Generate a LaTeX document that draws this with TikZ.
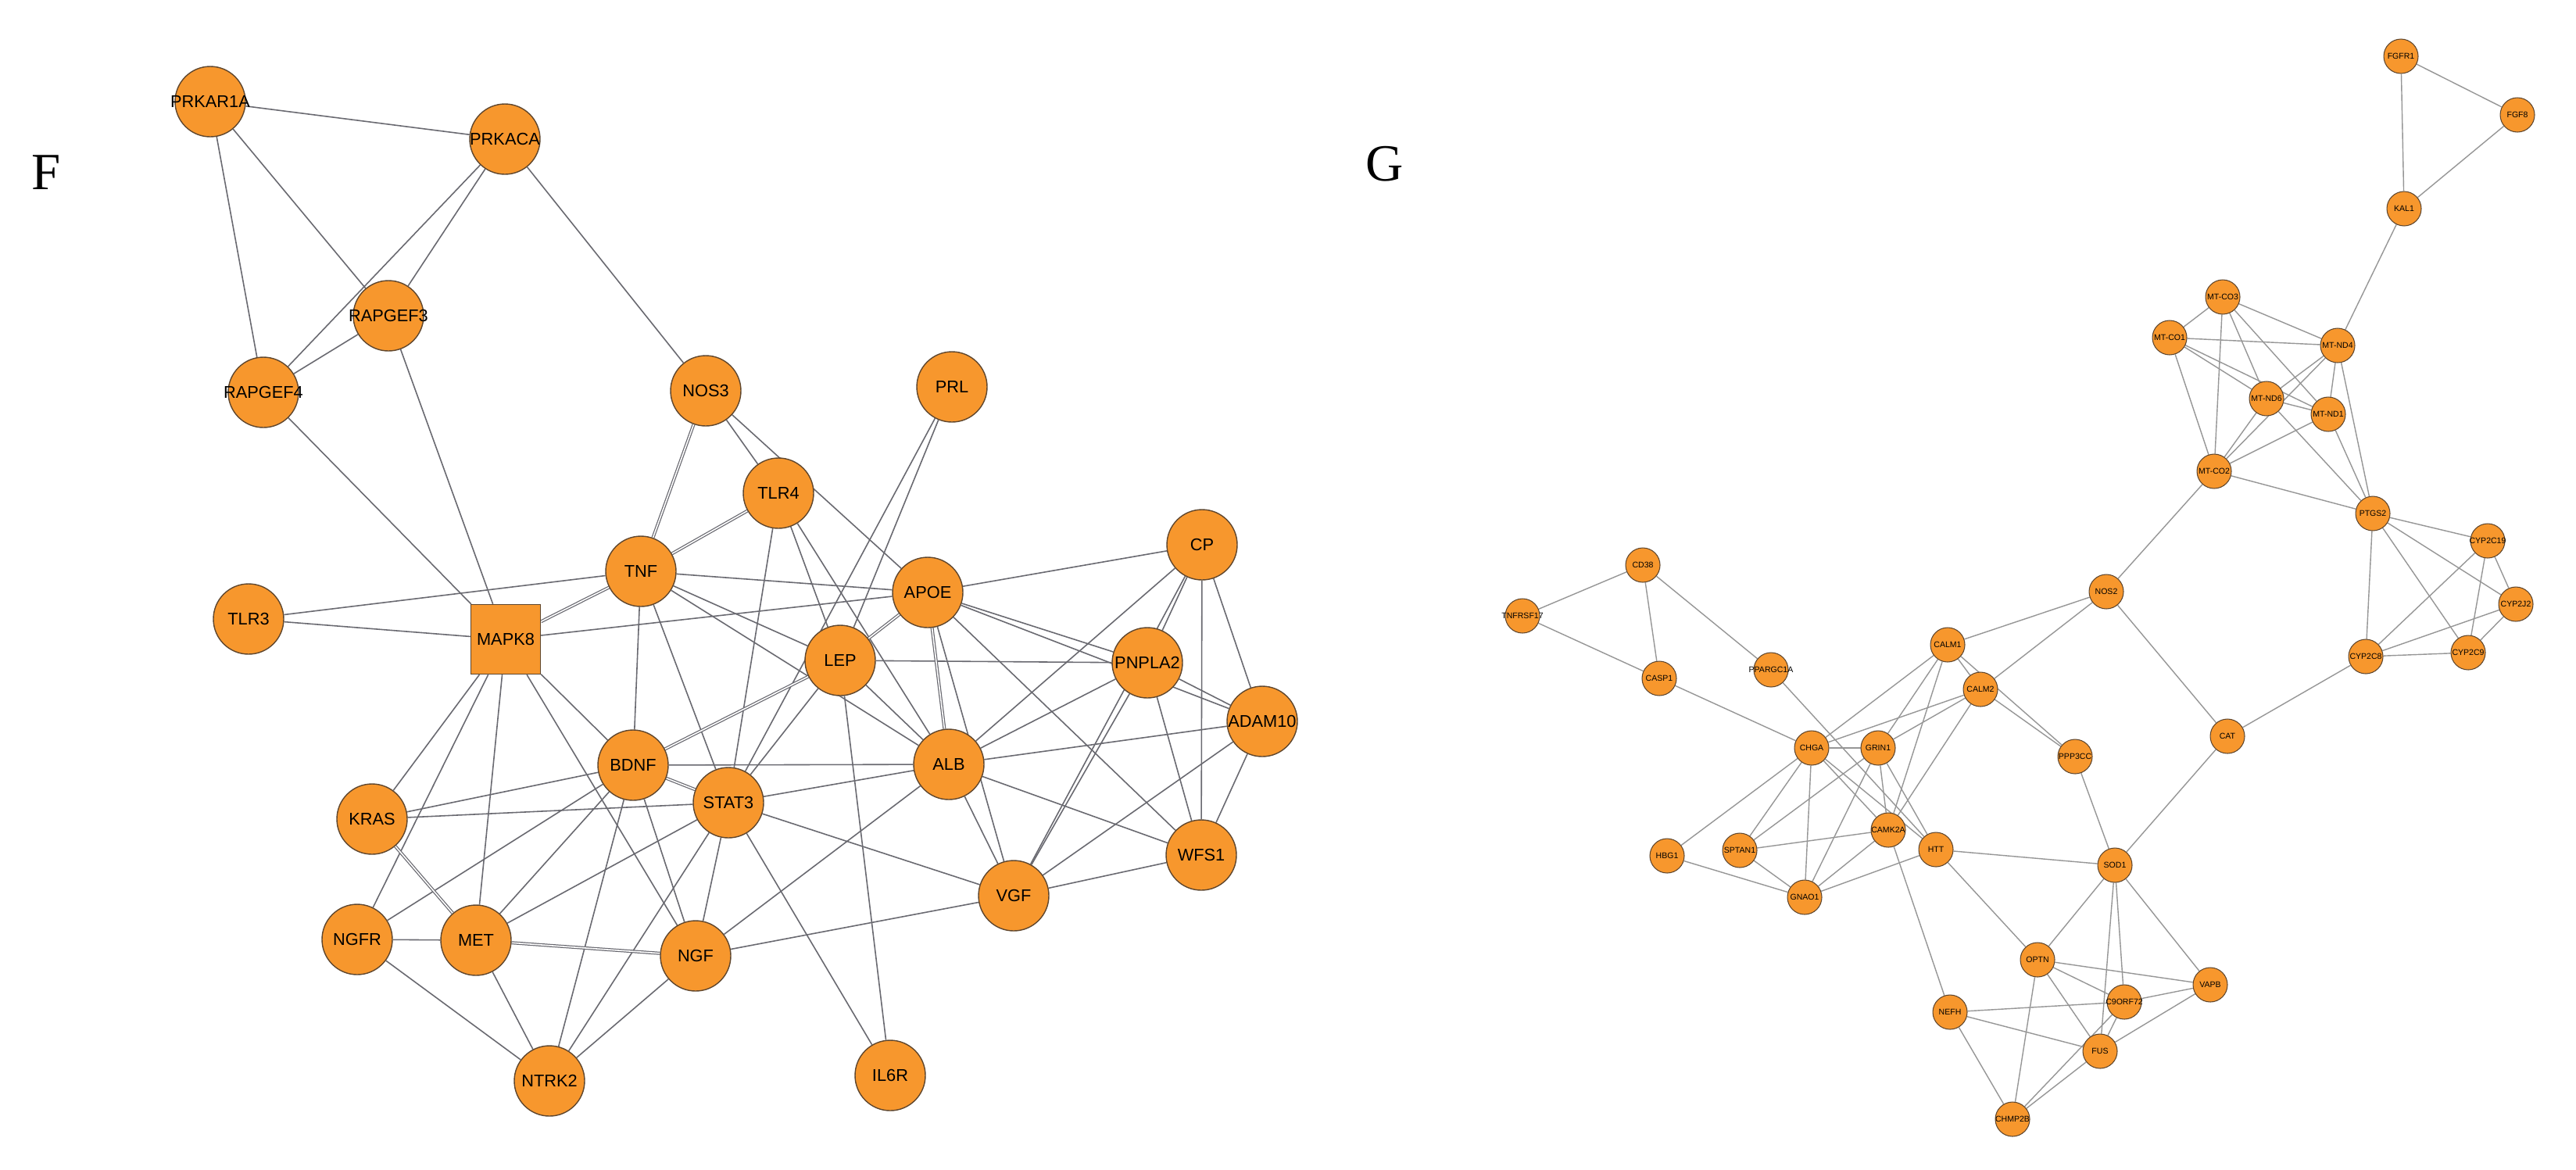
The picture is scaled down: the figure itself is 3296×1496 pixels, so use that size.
\documentclass[tikz,border=0pt]{standalone}
\usepackage{fontspec}
\newfontfamily\genefont{Liberation Sans}
\newfontfamily\panelfont{Liberation Serif}
\usetikzlibrary{backgrounds}
\definecolor{nodeorange}{RGB}{247,151,45}
\definecolor{rimbrown}{RGB}{95,70,45}
\definecolor{edgegrey}{RGB}{105,105,112}
\definecolor{edgelight}{RGB}{150,150,150}
\newcommand{\gl}[1]{\makebox[0pt]{#1}}
\tikzset{
  gene/.style={circle,draw=rimbrown,fill=nodeorange,line width=0.4pt,minimum size=9mm,inner sep=0pt,font=\genefont\fontsize{6.2}{7}\selectfont},
  hub/.style={gene,rectangle,minimum size=8.9mm},
  minor/.style={circle,draw=rimbrown,fill=nodeorange,line width=0.3pt,minimum size=4.4mm,inner sep=0pt,font=\genefont\fontsize{3}{3.5}\selectfont},
  link/.style={edgegrey,line width=0.45pt},
  dbl/.style={edgegrey,line width=0.35pt,double=white,double distance=0.45pt},
  glink/.style={edgelight,line width=0.4pt},
  panel/.style={font=\panelfont\fontsize{19}{22}\selectfont}
}

\begin{document}
\begin{tikzpicture}[x=0.1mm,y=-0.1mm]
\useasboundingbox (0,0) rectangle (3296,1496);

% panel F
\node[panel] (labF) at (59,221) {F};
\node[gene] (prkar1a) at (269,130) {\gl{PRKAR1A}};
\node[gene] (prkaca) at (646,178) {\gl{PRKACA}};
\node[gene] (rapgef3) at (497,404) {\gl{RAPGEF3}};
\node[gene] (rapgef4) at (337,502) {\gl{RAPGEF4}};
\node[gene] (nos3) at (903,500) {\gl{NOS3}};
\node[gene] (prl) at (1218,495) {\gl{PRL}};
\node[gene] (tlr4) at (996,631) {\gl{TLR4}};
\node[gene] (tnf) at (820,731) {\gl{TNF}};
\node[gene] (apoe) at (1187,758) {\gl{APOE}};
\node[gene] (cp) at (1538,697) {\gl{CP}};
\node[gene] (tlr3) at (318,792) {\gl{TLR3}};
\node[hub] (mapk8) at (647,818) {\gl{MAPK8}};
\node[gene] (lep) at (1075,845) {\gl{LEP}};
\node[gene] (pnpla2) at (1468,848) {\gl{PNPLA2}};
\node[gene] (adam10) at (1615,923) {\gl{ADAM10}};
\node[gene] (bdnf) at (810,979) {\gl{BDNF}};
\node[gene] (alb) at (1214,978) {\gl{ALB}};
\node[gene] (stat3) at (932,1027) {\gl{STAT3}};
\node[gene] (kras) at (476,1048) {\gl{KRAS}};
\node[gene] (wfs1) at (1537,1094) {\gl{WFS1}};
\node[gene] (vgf) at (1297,1146) {\gl{VGF}};
\node[gene] (ngfr) at (457,1202) {\gl{NGFR}};
\node[gene] (met) at (609,1203) {\gl{MET}};
\node[gene] (ngf) at (890,1223) {\gl{NGF}};
\node[gene] (ntrk2) at (703,1383) {\gl{NTRK2}};
\node[gene] (il6r) at (1139,1376) {\gl{IL6R}};

% panel G
\node[panel] (labG) at (1772,210) {G};
\node[minor] (fgfr1) at (3072,72) {\gl{FGFR1}};
\node[minor] (fgf8) at (3221,147) {\gl{FGF8}};
\node[minor] (kal1) at (3076,267) {\gl{KAL1}};
\node[minor] (mtco3) at (2844,380) {\gl{MT-CO3}};
\node[minor] (mtco1) at (2776,432) {\gl{MT-CO1}};
\node[minor] (mtnd4) at (2991,442) {\gl{MT-ND4}};
\node[minor] (mtnd6) at (2900,510) {\gl{MT-ND6}};
\node[minor] (mtnd1) at (2979,530) {\gl{MT-ND1}};
\node[minor] (mtco2) at (2833,603) {\gl{MT-CO2}};
\node[minor] (ptgs2) at (3036,657) {\gl{PTGS2}};
\node[minor] (cyp2c19) at (3183,692) {\gl{CYP2C19}};
\node[minor] (cyp2j2) at (3219,773) {\gl{CYP2J2}};
\node[minor] (cyp2c8) at (3027,840) {\gl{CYP2C8}};
\node[minor] (cyp2c9) at (3158,835) {\gl{CYP2C9}};
\node[minor] (nos2) at (2695,757) {\gl{NOS2}};
\node[minor] (cat) at (2850,942) {\gl{CAT}};
\node[minor] (tnfrsf17) at (1948,788) {\gl{TNFRSF17}};
\node[minor] (cd38) at (2102,723) {\gl{CD38}};
\node[minor] (casp1) at (2123,868) {\gl{CASP1}};
\node[minor] (ppargc1a) at (2266,857) {\gl{PPARGC1A}};
\node[minor] (calm1) at (2492,825) {\gl{CALM1}};
\node[minor] (calm2) at (2534,882) {\gl{CALM2}};
\node[minor] (ppp3cc) at (2655,968) {\gl{PPP3CC}};
\node[minor] (chga) at (2318,957) {\gl{CHGA}};
\node[minor] (grin1) at (2403,957) {\gl{GRIN1}};
\node[minor] (camk2a) at (2416,1062) {\gl{CAMK2A}};
\node[minor] (htt) at (2477,1087) {\gl{HTT}};
\node[minor] (hbg1) at (2133,1095) {\gl{HBG1}};
\node[minor] (sptan1) at (2226,1088) {\gl{SPTAN1}};
\node[minor] (gnao1) at (2309,1148) {\gl{GNAO1}};
\node[minor] (sod1) at (2706,1107) {\gl{SOD1}};
\node[minor] (optn) at (2607,1228) {\gl{OPTN}};
\node[minor] (vapb) at (2828,1260) {\gl{VAPB}};
\node[minor] (c9orf72) at (2718,1282) {\gl{C9ORF72}};
\node[minor] (nefh) at (2495,1295) {\gl{NEFH}};
\node[minor] (fus) at (2687,1345) {\gl{FUS}};
\node[minor] (chmp2b) at (2575,1432) {\gl{CHMP2B}};

\begin{scope}[on background layer]
\foreach \a/\b in {prkar1a/prkaca,prkar1a/rapgef4,prkar1a/rapgef3,prkaca/rapgef4,prkaca/rapgef3,prkaca/nos3,
  rapgef3/rapgef4,rapgef4/mapk8,rapgef3/mapk8,nos3/tlr4,nos3/apoe,tlr3/tnf,tlr3/mapk8,
  mapk8/apoe,mapk8/bdnf,mapk8/ngf,mapk8/met,mapk8/kras,mapk8/ngfr,
  tnf/apoe,tnf/lep,tnf/alb,tnf/bdnf,tnf/stat3,tlr4/lep,tlr4/stat3,tlr4/alb,prl/lep,prl/stat3,
  kras/bdnf,kras/stat3,ngfr/met,ngfr/ntrk2,ngfr/bdnf,met/ntrk2,met/bdnf,met/stat3,
  ngf/bdnf,ngf/stat3,ngf/ntrk2,ngf/alb,ngf/vgf,ntrk2/bdnf,ntrk2/stat3,bdnf/alb,
  stat3/lep,stat3/alb,stat3/vgf,stat3/il6r,lep/il6r,lep/pnpla2,lep/alb,
  apoe/cp,apoe/pnpla2,apoe/adam10,apoe/wfs1,apoe/vgf,cp/pnpla2,cp/vgf,cp/alb,cp/wfs1,cp/adam10,
  pnpla2/alb,pnpla2/vgf,pnpla2/wfs1,pnpla2/adam10,adam10/alb,adam10/wfs1,adam10/vgf,
  alb/wfs1,alb/vgf,vgf/wfs1}
  \draw[link] (\a) -- (\b);
\foreach \a/\b in {nos3/tnf,mapk8/tnf,tnf/tlr4,kras/met,met/ngf,bdnf/stat3,bdnf/lep,lep/apoe,apoe/alb}
  \draw[dbl] (\a) -- (\b);
\foreach \a/\b in {fgfr1/fgf8,fgfr1/kal1,fgf8/kal1,kal1/mtnd4,
  mtco3/mtco1,mtco3/mtnd4,mtco3/mtco2,mtco3/mtnd6,mtco3/mtnd1,mtco1/mtnd4,mtco1/mtnd6,mtco1/mtnd1,mtco1/mtco2,
  mtnd4/mtnd6,mtnd4/mtco2,mtnd4/mtnd1,mtnd4/ptgs2,mtnd6/mtnd1,mtnd6/mtco2,mtnd6/ptgs2,mtnd1/mtco2,mtnd1/ptgs2,
  mtco2/ptgs2,mtco2/nos2,ptgs2/cyp2c19,ptgs2/cyp2j2,ptgs2/cyp2c9,ptgs2/cyp2c8,
  cyp2c19/cyp2c8,cyp2c19/cyp2c9,cyp2c19/cyp2j2,cyp2j2/cyp2c8,cyp2j2/cyp2c9,cyp2c8/cyp2c9,cyp2c8/cat,
  nos2/cat,nos2/calm1,nos2/calm2,cat/sod1,calm1/calm2,calm1/ppp3cc,calm2/ppp3cc,ppp3cc/sod1,
  tnfrsf17/cd38,tnfrsf17/casp1,cd38/casp1,cd38/ppargc1a,casp1/chga,ppargc1a/htt,
  chga/calm1,chga/grin1,chga/calm2,chga/hbg1,chga/sptan1,chga/gnao1,chga/camk2a,chga/htt,
  grin1/sptan1,grin1/gnao1,grin1/camk2a,grin1/htt,grin1/calm1,grin1/calm2,calm1/camk2a,calm2/camk2a,
  camk2a/sptan1,camk2a/gnao1,camk2a/nefh,htt/gnao1,htt/sod1,htt/optn,hbg1/gnao1,sptan1/gnao1,
  sod1/optn,sod1/fus,sod1/c9orf72,sod1/vapb,optn/vapb,optn/c9orf72,optn/fus,optn/chmp2b,
  nefh/c9orf72,nefh/fus,nefh/chmp2b,c9orf72/vapb,c9orf72/fus,c9orf72/chmp2b,fus/vapb,fus/chmp2b}
  \draw[glink] (\a) -- (\b);
\end{scope}
\end{tikzpicture}
\end{document}
